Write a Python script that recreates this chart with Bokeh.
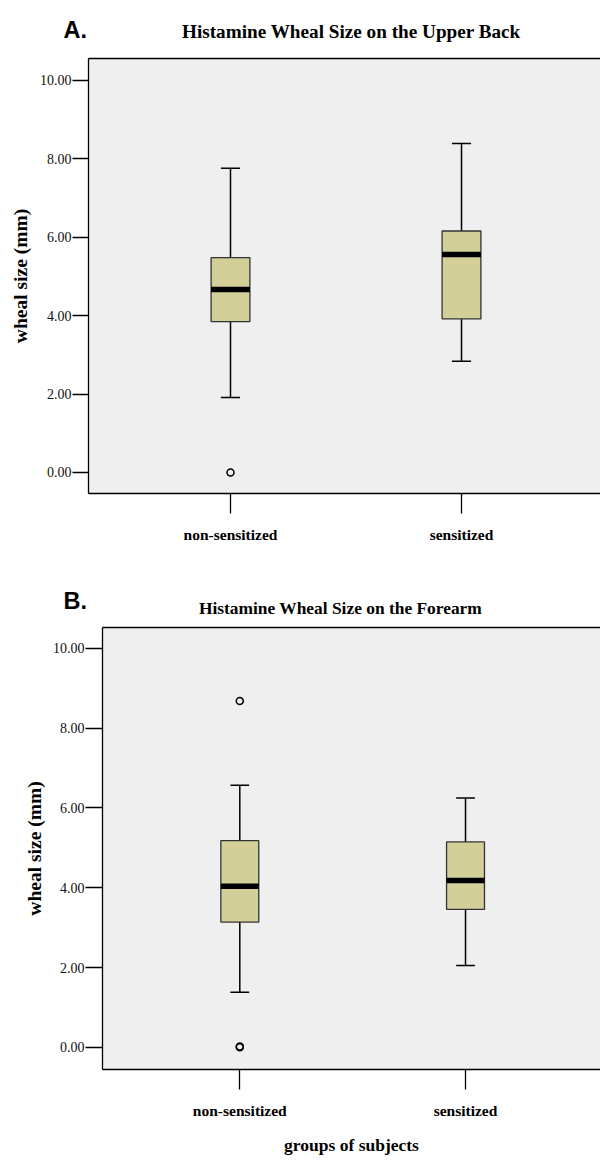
from bokeh.plotting import figure
from bokeh.models import Range1d, FixedTicker, LinearAxis, Spacer
from bokeh.layouts import column, row
from bokeh.core.properties import value
from bokeh.embed import file_html
from bokeh.resources import INLINE

categories = ["non-sensitized", "sensitized"]

# Panel A: upper back
a_lower = [1.91, 2.84]
a_q1 = [3.85, 3.92]
a_median = [4.67, 5.56]
a_q3 = [5.48, 6.16]
a_upper = [7.76, 8.39]
a_out_cat = ["non-sensitized"]
a_out_val = [0.0]

# Panel B: forearm
b_lower = [1.38, 2.05]
b_q1 = [3.14, 3.46]
b_median = [4.04, 4.18]
b_q3 = [5.18, 5.15]
b_upper = [6.57, 6.25]
b_out_cat = ["non-sensitized", "non-sensitized", "non-sensitized"]
b_out_val = [8.68, 0.0, 0.02]

y_ticks = [0, 2, 4, 6, 8, 10]
y_tick_labels = ["0.00", "2.00", "4.00", "6.00", "8.00", "10.00"]

titles = ["Histamine Wheal Size on the Upper Back", "Histamine Wheal Size on the Forearm"]
letters = ["A.", "B."]

SERIF = "Liberation Serif"
SANS = "Liberation Sans"
BOX_FILL = "#D3CF98"
BG = "#EFEFEF"


def make_header(letter, title, height, y0, letter_x, letter_y, title_x, title_y, title_size):
    h = figure(width=600, height=height, output_backend="svg", toolbar_location=None,
               x_range=Range1d(0, 600), y_range=Range1d(y0 + height, y0),
               x_axis_type=None, y_axis_type=None,
               min_border_left=0, min_border_right=0, min_border_top=0, min_border_bottom=0)
    h.outline_line_color = None
    h.background_fill_color = "white"
    h.border_fill_color = "white"
    h.xgrid.visible = False
    h.ygrid.visible = False
    h.text(x=[letter_x], y=[letter_y], text=[letter], text_font=value(SANS),
           text_font_style="bold", text_font_size="23.5px", text_align="left",
           text_baseline="alphabetic", text_color="black")
    h.text(x=[title_x], y=[title_y], text=[title], text_font=value(SERIF),
           text_font_style="bold", text_font_size=title_size, text_align="center",
           text_baseline="alphabetic", text_color="black")
    return h


def make_panel(lower, q1, med, q3, upper, out_cat, out_val,
               width, height, mb_left, mb_top, mb_bottom, xr, yr,
               tick_out_y, ylab_standoff, xlabel):
    p = figure(width=width, height=height, output_backend="svg",
               toolbar_location=None, x_range=Range1d(*xr), y_range=Range1d(*yr),
               min_border_left=mb_left, min_border_right=0,
               min_border_top=mb_top, min_border_bottom=mb_bottom)
    p.background_fill_color = BG
    p.border_fill_color = "white"
    p.outline_line_color = None
    p.xgrid.visible = False
    p.ygrid.visible = False

    xs = [categories.index(c) + 1 for c in categories]
    bw = 0.168
    cw = 0.083

    # whiskers
    p.segment(x0=xs, y0=q3, x1=xs, y1=upper, line_color="black", line_width=1.5)
    p.segment(x0=xs, y0=q1, x1=xs, y1=lower, line_color="black", line_width=1.5)
    p.segment(x0=[x - cw / 2 for x in xs], y0=upper, x1=[x + cw / 2 for x in xs], y1=upper,
              line_color="black", line_width=1.5)
    p.segment(x0=[x - cw / 2 for x in xs], y0=lower, x1=[x + cw / 2 for x in xs], y1=lower,
              line_color="black", line_width=1.5)
    # boxes
    p.vbar(x=xs, width=bw, bottom=q1, top=q3, fill_color=BOX_FILL,
           line_color="#333333", line_width=1.3)
    # medians
    p.segment(x0=[x - bw / 2 for x in xs], y0=med, x1=[x + bw / 2 for x in xs], y1=med,
              line_color="black", line_width=5.5, line_cap="butt")
    # outliers
    ox = [categories.index(c) + 1 for c in out_cat]
    p.scatter(x=ox, y=out_val, marker="circle", size=7, fill_color=None,
              line_color="black", line_width=1.5)

    # y axis
    ya = p.yaxis[0]
    ya.ticker = FixedTicker(ticks=y_ticks)
    ya.major_label_overrides = {t: l for t, l in zip(y_ticks, y_tick_labels)}
    ya.minor_tick_line_color = None
    ya.major_tick_in = 0
    ya.major_tick_out = tick_out_y
    ya.major_tick_line_width = 1.3
    ya.axis_line_width = 1.3
    ya.major_label_standoff = 1
    ya.major_label_text_font = SERIF
    ya.major_label_text_font_size = "14px"
    ya.major_label_text_color = "#111111"
    ya.axis_label = "wheal size (mm)"
    ya.axis_label_text_font = SERIF
    ya.axis_label_text_font_style = "bold"
    ya.axis_label_text_font_size = "19.5px"
    ya.axis_label_text_color = "black"
    ya.axis_label_standoff = ylab_standoff

    # x axis
    xa = p.xaxis[0]
    xa.ticker = FixedTicker(ticks=xs)
    xa.major_label_overrides = {x: c for x, c in zip(xs, categories)}
    xa.minor_tick_line_color = None
    xa.major_tick_in = 0
    xa.major_tick_out = 20
    xa.major_tick_line_width = 1.3
    xa.axis_line_width = 1.3
    xa.major_label_standoff = 12
    xa.major_label_text_font = SERIF
    xa.major_label_text_font_style = "bold"
    xa.major_label_text_font_size = "15.5px"
    xa.major_label_text_color = "black"
    if xlabel:
        xa.axis_label = xlabel
        xa.axis_label_text_font = SERIF
        xa.axis_label_text_font_style = "bold"
        xa.axis_label_text_font_size = "17.5px"
        xa.axis_label_text_color = "black"
        xa.axis_label_standoff = 13

    # top border line of the frame
    top = LinearAxis(ticker=FixedTicker(ticks=[]), major_label_text_font_size="0px",
                     major_tick_out=0, major_tick_in=0, major_label_standoff=0,
                     major_tick_line_color=None, minor_tick_line_color=None,
                     axis_line_color="black", axis_line_width=1.3)
    p.add_layout(top, "above")
    return p


ha = make_header(letters[0], titles[0], height=46, y0=0,
                 letter_x=63, letter_y=29, title_x=351, title_y=31, title_size="19.2px")
pa = make_panel(a_lower, a_q1, a_median, a_q3, a_upper, a_out_cat, a_out_val,
                width=600, height=502, mb_left=88, mb_top=12, mb_bottom=55,
                xr=(0.3853, 2.6017), yr=(-0.536, 10.561),
                tick_out_y=16, ylab_standoff=6, xlabel=None)
hb = make_header(letters[1], titles[1], height=70, y0=548,
                 letter_x=63, letter_y=600, title_x=340, title_y=607, title_size="17.4px")
pb = make_panel(b_lower, b_q1, b_median, b_q3, b_upper, b_out_cat, b_out_val,
                width=586, height=542, mb_left=88, mb_top=9, mb_bottom=91,
                xr=(0.3917, 2.598), yr=(-0.557, 10.525),
                tick_out_y=17, ylab_standoff=5, xlabel="groups of subjects")

layout = column(row(ha), row(pa), row(hb), row(Spacer(width=14, height=542), pb), spacing=0)
open("out.html", "w").write(file_html(layout, INLINE))
